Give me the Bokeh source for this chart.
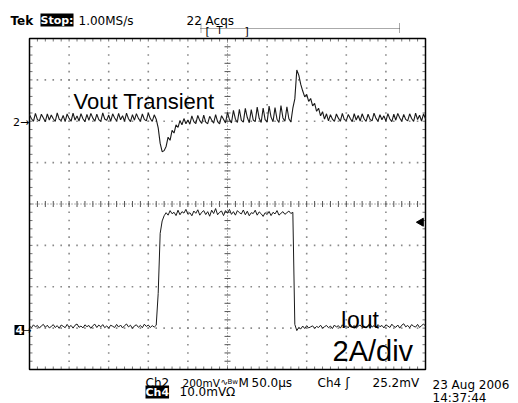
import numpy as np
from bokeh.plotting import figure
from bokeh.models import Range1d, Label
from bokeh.embed import file_html
from bokeh.resources import INLINE

# ---------------- acquisition / channel settings ----------------
t_start_us = 0.0
t_step_us = 2.5
time_per_div_us = 50.0
n_xdiv = 10
n_ydiv = 8
minor_per_div = 5
ch2_mv_per_div = 200.0
ch2_offset_div = 2.09
ch4_a_per_div = 2.0
ch4_mv_per_div = 10.0
ch4_offset_div = -2.96
trig_level_mv = 25.2

# ---------------- waveform samples ----------------
vout_mv = [
    14, -6, -18, 20, -10, -16, 16, -2, -20, 18,
    -12, 12, -6, -19, 22, -8, -15, 10, -20, 17,
    -4, -18, 21, -12, 8, -17, 19, -6, -20, 15,
    -14, 20, -3, -18, 16, -10, -19, 22, -7, -14,
    12, -19, 18, -2, -17, 20, -11, 9, -18, 21,
    -6, -20, 14, -13, 19, -4, -18, 17, -9, -16,
    22, -5, -19, 13, -8, -50, -125, -165, -160, -140,
    -95, -110, -62, -75, -35, -48, -15, -35, -5, -30,
    -12, -32, 8, -20, -30, 10, -15, -28, 12, -22,
    -30, 6, -12, -27, 14, -20, -31, 9, -8, -26,
    25, -10, -26, 35, -8, -24, 40, -14, -22, 44,
    0, -25, 38, -12, -20, 50, -4, -24, 46, -10,
    -22, 55, 2, -20, 48, -8, -24, 58, -2, -18,
    52, -6, -22, 45, 90, 230, 205, 160, 128, 100,
    112, 78, 92, 56, 68, 30, 45, 8, 28, -8,
    18, -16, 14, -8, -19, 17, -3, -18, 20, -10,
    -15, 15, -5, -20, 19, -12, 10, -17, 18, -6,
    -19, 16, -9, -16, 21, -4, -18, 14, -11, 8,
    -17, 19, -7, -20, 16, -13, 20, -2, -18, 15,
    -9, -16, 18, -5, -19, 21, -10, 11, -17, 17,
    -6,
]

iout_a = [
    0.02, -0.06, 0.08, -0.02, 0.05, -0.08, 0.03, 0.10, -0.04, 0.06,
    -0.07, 0.00, 0.09, -0.05, 0.04, -0.09, 0.07, 0.01, -0.06, 0.10,
    -0.03, 0.05, -0.08, 0.06, 0.12, -0.04, 0.02, -0.07, 0.08, -0.01,
    0.05, -0.09, 0.04, 0.11, -0.05, 0.07, -0.02, 0.09, -0.06, 0.03,
    -0.08, 0.06, 0.01, -0.05, 0.10, -0.03, 0.07, -0.07, 0.04, 0.12,
    -0.02, 0.06, -0.09, 0.03, 0.08, -0.04, 0.05, -0.06, 0.11, 0.00,
    0.07, -0.05, 0.04, -0.03, 0.06, 1.60, 4.50, 5.10, 5.35, 5.50,
    5.38, 5.60, 5.45, 5.52, 5.36, 5.62, 5.40, 5.55, 5.48, 5.66,
    5.42, 5.50, 5.35, 5.58, 5.47, 5.64, 5.38, 5.52, 5.60, 5.41,
    5.55, 5.33, 5.62, 5.46, 5.70, 5.40, 5.52, 5.58, 5.36, 5.60,
    5.48, 5.66, 5.42, 5.55, 5.38, 5.60, 5.50, 5.44, 5.63, 5.40,
    5.57, 5.35, 5.50, 5.46, 5.62, 5.38, 5.54, 5.45, 5.32, 5.50,
    5.41, 5.56, 5.36, 5.52, 5.44, 5.60, 5.38, 5.47, 5.55, 5.42,
    5.50, 5.58, 5.46, 5.52, 0.10, -0.20, -0.05, -0.12, 0.02, -0.10,
    0.04, -0.07, -0.02, 0.03, -0.09, 0.00, -0.05, 0.06, -0.08, -0.01,
    0.05, -0.06, 0.02, -0.10, 0.07, -0.03, 0.04, -0.08, 0.08, -0.02,
    0.03, -0.07, 0.10, -0.04, 0.05, -0.09, 0.02, 0.07, -0.05, 0.01,
    -0.08, 0.06, 0.12, -0.03, 0.04, -0.06, 0.09, -0.01, 0.05, -0.07,
    0.08, 0.02, -0.05, 0.11, 0.00, -0.04, 0.07, -0.08, 0.06, 0.13,
    -0.02, 0.05, -0.06, 0.09, 0.01, -0.03, 0.10, -0.05, 0.04, 0.12,
    0.02,
]

# ---------------- layout (page pixels) ----------------
W, H = 518, 403
PAGE = 0
GX0, GX1, GY0, GY1 = 29.0, 425.0, 38.0, 369.0
t_span = n_xdiv * time_per_div_us
px_per_us = (GX1 - GX0) / t_span
px_per_div = (GY1 - GY0) / n_ydiv
GYC = (GY0 + GY1) / 2


def px2t(px):
    return (px - GX0) / px_per_us


def py2d(py):
    return (GYC - py) / px_per_div


p = figure(width=W, height=H, output_backend="svg", toolbar_location=None,
           x_range=Range1d(px2t(PAGE), px2t(PAGE + W)),
           y_range=Range1d(py2d(PAGE + H), py2d(PAGE)),
           x_axis_location=None, y_axis_location=None,
           min_border=0, min_border_left=0, min_border_right=0,
           min_border_top=0, min_border_bottom=0)
p.outline_line_color = None
p.background_fill_color = "white"
p.border_fill_color = "white"
p.xgrid.visible = False
p.ygrid.visible = False

half_y = n_ydiv / 2
minor_t = time_per_div_us / minor_per_div
minor_d = 1.0 / minor_per_div

# grid dots on major division lines
dx, dy = [], []
for k in range(1, n_xdiv):
    if k == n_xdiv // 2:
        continue
    for j in range(1, n_ydiv * minor_per_div):
        dx.append(k * time_per_div_us)
        dy.append(-half_y + j * minor_d)
for k in range(1, n_ydiv):
    if k == n_ydiv // 2:
        continue
    for j in range(1, n_xdiv * minor_per_div):
        dx.append(j * minor_t)
        dy.append(-half_y + k)
p.scatter(dx, dy, marker="square", size=1.6, line_color=None,
          fill_color="#8a8a8a")

# centre cross lines
p.line([0, t_span], [0, 0], line_color="#666666", line_dash="1 2", line_width=1)
p.line([t_span / 2, t_span / 2], [-half_y, half_y], line_color="#666666",
       line_dash="1 2", line_width=1)
tick_t = 3.0 / px_per_us
tick_d = 3.0 / px_per_div
cx = [j * minor_t for j in range(1, n_xdiv * minor_per_div)]
p.segment(x0=cx, y0=[-tick_d] * len(cx), x1=cx, y1=[tick_d] * len(cx),
          line_color="#555555", line_width=1)
cy = [-half_y + j * minor_d for j in range(1, n_ydiv * minor_per_div)]
p.segment(x0=[t_span / 2 - tick_t] * len(cy), y0=cy,
          x1=[t_span / 2 + tick_t] * len(cy), y1=cy,
          line_color="#555555", line_width=1)

# frame edge ticks
p.segment(x0=cx, y0=[half_y] * len(cx), x1=cx, y1=[half_y - tick_d] * len(cx),
          line_color="#777777", line_width=1)
p.segment(x0=cx, y0=[-half_y] * len(cx), x1=cx, y1=[-half_y + tick_d] * len(cx),
          line_color="#777777", line_width=1)
p.segment(x0=[0] * len(cy), y0=cy, x1=[tick_t] * len(cy), y1=cy,
          line_color="#777777", line_width=1)
p.segment(x0=[t_span] * len(cy), y0=cy, x1=[t_span - tick_t] * len(cy), y1=cy,
          line_color="#777777", line_width=1)

# frame
p.quad(left=[0], right=[t_span], bottom=[-half_y], top=[half_y],
       fill_color=None, line_color="black", line_width=1.5)

# waveforms
t = t_start_us + t_step_us * np.arange(len(vout_mv))
vout_div = ch2_offset_div + np.array(vout_mv) / ch2_mv_per_div
iout_div = ch4_offset_div + np.array(iout_a) / ch4_a_per_div
p.line(t, vout_div, line_color="#1a1a1a", line_width=1.1)
p.line(t[:len(iout_a)], iout_div, line_color="#1a1a1a", line_width=1)

# trigger level marker
trig_div = ch4_offset_div + trig_level_mv / ch4_mv_per_div
p.scatter([t_span - 4.5 / px_per_us], [trig_div], marker="triangle",
          angle=np.pi / 2, size=8, fill_color="black", line_color="black")

# record overview bar
p.line([px2t(200), px2t(399)], [py2d(28), py2d(28)], line_color="#555555",
       line_dash="1 1", line_width=1)
p.segment(x0=[px2t(200.5), px2t(399)], y0=[py2d(23)] * 2,
          x1=[px2t(200.5), px2t(399)], y1=[py2d(32)] * 2,
          line_color="#555555", line_dash="1 1", line_width=1)


def lab(text, px, py, size=12, font="DejaVu Sans", style="normal",
        color="black", bg=None, align="left", pad=0):
    kw = {}
    if bg is not None:
        kw = dict(background_fill_color=bg, padding=pad)
    p.add_layout(Label(x=px2t(px), y=py2d(py), text=text, text_font=font,
                       text_font_size=f"{size}px", text_font_style=style,
                       text_color=color, text_align=align,
                       text_baseline="alphabetic", **kw))


SCOPE = "DejaVu Sans"
lab("Tek", 10, 20, 12, SCOPE, "bold")
lab("Stop:", 40, 19.5, 11, SCOPE, "bold", color="white", bg="black", pad=0)
lab("1.00MS/s", 78, 20, 12, SCOPE)
lab("22 Acqs", 186, 20.5, 12, SCOPE)
lab("[", 205, 31, 11, SCOPE)
lab("T", 216, 30, 10, SCOPE)
lab("]", 244, 31, 11, SCOPE)

lab("2\u2192", 12.5, 122, 11, SCOPE)
lab("4", 14, 329.5, 11, SCOPE, "bold", color="white", bg="black", pad=1)
lab("\u2192", 22.5, 329.5, 10, SCOPE)

lab("Vout Transient", 73, 101, 22, "Liberation Sans")
lab("Iout", 340, 319, 23, "Liberation Sans")
lab("2A/div", 332, 350, 29, "Liberation Sans")

lab("Ch2", 145, 382.5, 12, SCOPE)
lab("200mV", 182, 382.5, 10.5, SCOPE)
lab("\u223f", 220, 381, 9, SCOPE)
lab("Bw", 227, 381, 7, SCOPE)
lab("M", 238, 382.5, 12, SCOPE)
lab("50.0\u00b5s", 251, 382.5, 12, SCOPE)
lab("Ch4", 317, 382.5, 12, SCOPE)
lab("\u0283", 345, 382.5, 12, SCOPE)
lab("25.2mV", 372, 382.5, 12, SCOPE)
lab("Ch4", 145, 391.5, 11, SCOPE, "bold", color="white", bg="black", pad=0)
lab("10.0mV\u03a9", 179, 391.5, 12, SCOPE)
lab("23 Aug 2006", 432, 384, 12, SCOPE)
lab("14:37:44", 432, 397, 12, SCOPE)

open("out.html", "w").write(file_html(p, INLINE))
